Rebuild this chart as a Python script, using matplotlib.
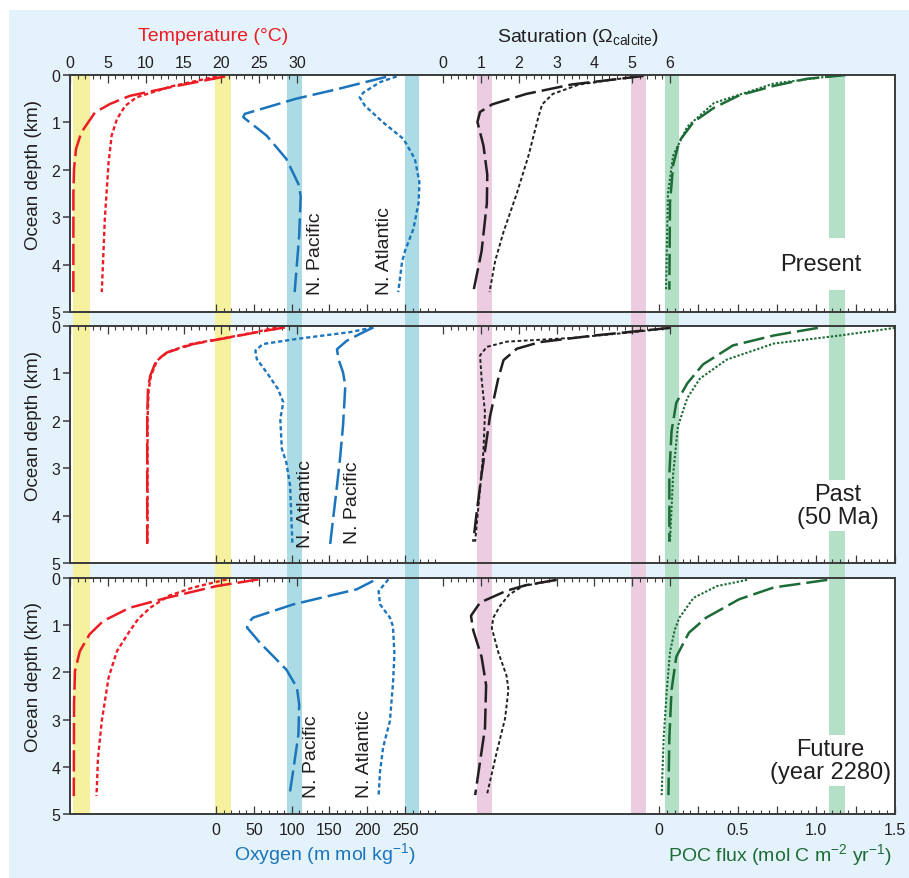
import matplotlib.pyplot as plt
from matplotlib.patches import Rectangle

plt.rcParams['font.family'] = ['Liberation Sans', 'DejaVu Sans']
plt.rcParams['mathtext.fontset'] = 'custom'
plt.rcParams['mathtext.rm'] = 'Liberation Sans'
plt.rcParams['mathtext.it'] = 'Liberation Sans:italic'
plt.rcParams['mathtext.bf'] = 'Liberation Sans:bold'
plt.rcParams['axes.unicode_minus'] = False

# ---------------- data (depth in km, value) ----------------
periods = ['Present', 'Past\n(50 Ma)', 'Future\n(year 2280)']

# Present
p1_temp_dash_z = [0.03, 0.26, 0.44, 0.61, 0.79, 1.0, 1.21, 1.56, 1.98, 2.5, 4.58]
p1_temp_dash = [20.5, 13.2, 7.9, 5.3, 3.3, 2.4, 1.5, 0.8, 0.53, 0.45, 0.44]
p1_temp_dot_z = [0.03, 0.24, 0.47, 0.65, 0.93, 1.28, 1.84, 3.04, 4.58]
p1_temp_dot = [19.4, 13.4, 8.8, 7.3, 6.2, 5.5, 5.1, 4.6, 4.2]
p1_oxy_pac_z = [0.04, 0.3, 0.5, 0.82, 0.89, 1.28, 1.77, 2.3, 2.55, 3.39, 4.58]
p1_oxy_pac = [225, 160, 106, 38, 36, 67, 93, 109, 112, 110, 104]
p1_oxy_atl_z = [0.03, 0.15, 0.37, 0.47, 0.65, 1.0, 1.35, 1.77, 2.26, 2.69, 3.25, 3.71, 3.95, 4.58]
p1_oxy_atl = [239, 217, 195, 190, 197, 221, 248, 263, 269, 268, 261, 250, 246, 241]
p1_sat_dash_z = [0.02, 0.2, 0.4, 0.62, 0.78, 0.99, 1.49, 2.1, 2.7, 3.72, 4.58]
p1_sat_dash = [5.3, 3.4, 2.2, 1.3, 0.98, 0.91, 1.07, 1.17, 1.16, 1.02, 0.80]
p1_sat_dot_z = [0.02, 0.2, 0.4, 0.62, 0.89, 1.7, 2.5, 3.31, 3.92, 4.58]
p1_sat_dot = [5.2, 3.6, 2.9, 2.62, 2.52, 2.26, 1.95, 1.6, 1.38, 1.23]
p1_poc_dash_z = [0.0, 0.08, 0.23, 0.43, 0.69, 0.99, 1.39, 1.9, 2.7, 4.53]
p1_poc_dash = [1.19, 0.94, 0.73, 0.51, 0.35, 0.22, 0.13, 0.09, 0.07, 0.066]
p1_poc_dot_z = [0.0, 0.18, 0.59, 1.09, 1.7, 2.5, 4.53]
p1_poc_dot = [1.15, 0.73, 0.35, 0.18, 0.09, 0.057, 0.045]

# Past (50 Ma)
p2_temp_dash_z = [0.03, 0.12, 0.24, 0.38, 0.56, 0.73, 1.05, 1.33, 1.96, 4.6]
p2_temp_dash = [28.4, 25.1, 21.1, 16.3, 12.8, 11.4, 10.6, 10.3, 10.2, 10.2]
p2_temp_dot_z = [0.03, 0.13, 0.25, 0.38, 0.55, 0.73, 1.05, 1.33, 1.96, 4.6]
p2_temp_dot = [27.3, 24.5, 20.6, 16.0, 12.9, 11.5, 10.7, 10.4, 10.25, 10.25]
p2_oxy_pac_z = [0.03, 0.17, 0.31, 0.49, 0.70, 0.98, 1.26, 2.1, 2.8, 3.37, 4.6]
p2_oxy_pac = [208, 190, 173, 160, 162, 168, 171, 168, 164, 160, 151]
p2_oxy_atl_z = [0.03, 0.13, 0.27, 0.38, 0.52, 0.70, 0.98, 1.33, 1.61, 1.96, 2.59, 2.88, 3.37, 4.6]
p2_oxy_atl = [208, 177, 108, 62, 52, 54, 67, 82, 89, 85, 87, 93, 98, 101]
p2_sat_dash_z = [0.04, 0.2, 0.34, 0.48, 0.72, 1.11, 1.92, 3.13, 3.94, 4.55]
p2_sat_dash = [6.0, 4.0, 2.56, 1.95, 1.6, 1.46, 1.24, 1.02, 0.89, 0.80]
p2_sat_dot_z = [0.04, 0.14, 0.25, 0.33, 0.44, 0.62, 1.11, 1.82, 2.63, 3.43, 4.55]
p2_sat_dot = [6.0, 4.9, 3.44, 1.69, 1.16, 0.98, 1.02, 1.11, 1.07, 0.98, 0.85]
p2_poc_dash_z = [0.04, 0.2, 0.41, 0.81, 1.21, 1.62, 2.22, 3.13, 4.55]
p2_poc_dash = [1.01, 0.73, 0.47, 0.28, 0.18, 0.11, 0.08, 0.066, 0.066]
p2_poc_dot_z = [0.04, 0.2, 0.37, 0.71, 1.11, 1.52, 2.12, 3.13, 4.55]
p2_poc_dot = [1.5, 1.15, 0.73, 0.43, 0.26, 0.18, 0.12, 0.09, 0.07]

# Future (year 2280)
p3_temp_dash_z = [0.03, 0.17, 0.42, 0.63, 0.91, 1.19, 1.55, 1.97, 2.68, 4.62]
p3_temp_dash = [24.9, 19.4, 12.8, 7.9, 4.4, 2.6, 1.3, 0.66, 0.53, 0.5]
p3_temp_dot_z = [0.03, 0.2, 0.38, 0.63, 0.87, 1.12, 1.55, 2.11, 3.03, 3.81, 4.62]
p3_temp_dot = [20.7, 16.3, 13.0, 10.6, 9.0, 7.9, 6.2, 5.1, 4.2, 3.7, 3.5]
p3_oxy_pac_z = [0.06, 0.24, 0.56, 0.84, 0.91, 1.05, 1.37, 1.94, 2.32, 2.68, 3.31, 4.09, 4.62]
p3_oxy_pac = [208, 186, 102, 49, 45, 41, 58, 93, 107, 110, 109, 102, 97]
p3_oxy_atl_z = [0.03, 0.28, 0.56, 0.84, 1.02, 1.62, 2.25, 3.03, 3.59, 4.09, 4.62]
p3_oxy_atl = [228, 215, 217, 230, 234, 236, 234, 230, 221, 217, 215]
p3_sat_dash_z = [0.04, 0.15, 0.27, 0.52, 0.8, 1.11, 1.67, 2.27, 3.18, 3.89, 4.6]
p3_sat_dash = [3.0, 2.2, 1.68, 0.98, 0.74, 0.80, 1.02, 1.14, 1.11, 0.98, 0.85]
p3_sat_dot_z = [0.04, 0.17, 0.35, 0.59, 0.84, 1.06, 1.57, 2.07, 2.37, 2.98, 3.69, 4.6]
p3_sat_dot = [3.0, 2.12, 1.75, 1.51, 1.33, 1.29, 1.46, 1.68, 1.73, 1.64, 1.42, 1.16]
p3_poc_dash_z = [0.04, 0.2, 0.45, 0.84, 1.16, 1.67, 2.37, 3.38, 4.6]
p3_poc_dash = [1.07, 0.73, 0.51, 0.30, 0.19, 0.11, 0.08, 0.066, 0.06]
p3_poc_dot_z = [0.04, 0.17, 0.42, 0.84, 1.1, 1.57, 2.37, 3.38, 4.6]
p3_poc_dot = [0.56, 0.37, 0.22, 0.13, 0.10, 0.07, 0.05, 0.03, 0.017]

# shaded reference ranges
temp_bands = [(0.4, 2.6), (19.2, 21.3)]
oxy_bands = [(94, 114), (250, 269)]
sat_bands = [(0.9, 1.3), (4.97, 5.37)]
poc_bands = [(0.04, 0.13), (1.08, 1.18)]

# basin labels: (text, oxygen value, depth of text start)
p1_basins = [('N. Pacific', 131, 4.62), ('N. Atlantic', 223, 4.62)]
p2_basins = [('N. Atlantic', 118, 4.66), ('N. Pacific', 180, 4.58)]
p3_basins = [('N. Pacific', 126, 4.64), ('N. Atlantic', 197, 4.64)]

# ---------------- styles ----------------
red = '#ec1c24'
blue = '#1c75bc'
black = '#231f20'
green = '#1d6b36'
frame_col = '#3a3a3a'
band_cols = {'temp': '#f5f19e', 'oxy': '#abdce5', 'sat': '#ebcce1', 'poc': '#b5e0c8'}
line_cols = {'temp': red, 'oxy': blue, 'sat': black, 'poc': green}
long_dash = (0, (8.5, 2.4))
short_dash = (0, (1.8, 1.2))

W, H = 909, 879
fig = plt.figure(figsize=(W / 100, H / 100), dpi=100)
fig.add_artist(Rectangle((9 / W, 0), 1 - 9 / W, 1 - 11 / H, transform=fig.transFigure,
                         facecolor='#e4f3fb', edgecolor='none', zorder=-10))


def rect(l, t, r, b):
    return [l / W, 1 - b / H, (r - l) / W, (b - t) / H]


panel_px = [(70, 76, 895, 313), (70, 327, 895, 564), (70, 579, 895, 815)]

# where each scale sits across the panel width: value v0 at frac f0, v1 at frac f1
place = {'temp': (0, 30, 0.0, 0.2752),
         'oxy': (0, 250, 0.1770, 0.4061),
         'sat': (0, 6, 0.4521, 0.7273),
         'poc': (0, 1.5, 0.7139, 1.0)}


def xlim_for(var):
    v0, v1, f0, f1 = place[var]
    k = (v1 - v0) / (f1 - f0)
    lo = v0 - f0 * k
    return lo, lo + k


ticks = {
    'temp': (list(range(0, 31, 5)), list(range(0, 31)), None, 'top'),
    'sat': (list(range(0, 7)), [i * 0.2 for i in range(31)], None, 'top'),
    'oxy': (list(range(0, 251, 50)), list(range(0, 291, 10)), None, 'bottom'),
    'poc': ([i * 0.25 for i in range(7)], [i * 0.05 for i in range(31)],
            ['0', '', '0.5', '', '1.0', '', '1.5'], 'bottom'),
}

# bands run through all three panels and the gaps between them
for var, bands in [('temp', temp_bands), ('oxy', oxy_bands), ('sat', sat_bands), ('poc', poc_bands)]:
    bax = fig.add_axes(rect(70, 76, 895, 815), zorder=2)
    bax.set_xlim(*xlim_for(var))
    bax.set_ylim(0, 1)
    bax.axis('off')
    for a, b in bands:
        bax.axvspan(a, b, color=band_cols[var], lw=0)

panels = [
    {'temp': [(p1_temp_dash, p1_temp_dash_z), (p1_temp_dot, p1_temp_dot_z)],
     'oxy': [(p1_oxy_pac, p1_oxy_pac_z), (p1_oxy_atl, p1_oxy_atl_z)],
     'sat': [(p1_sat_dash, p1_sat_dash_z), (p1_sat_dot, p1_sat_dot_z)],
     'poc': [(p1_poc_dash, p1_poc_dash_z), (p1_poc_dot, p1_poc_dot_z)],
     'basins': p1_basins},
    {'temp': [(p2_temp_dash, p2_temp_dash_z), (p2_temp_dot, p2_temp_dot_z)],
     'oxy': [(p2_oxy_pac, p2_oxy_pac_z), (p2_oxy_atl, p2_oxy_atl_z)],
     'sat': [(p2_sat_dash, p2_sat_dash_z), (p2_sat_dot, p2_sat_dot_z)],
     'poc': [(p2_poc_dash, p2_poc_dash_z), (p2_poc_dot, p2_poc_dot_z)],
     'basins': p2_basins},
    {'temp': [(p3_temp_dash, p3_temp_dash_z), (p3_temp_dot, p3_temp_dot_z)],
     'oxy': [(p3_oxy_pac, p3_oxy_pac_z), (p3_oxy_atl, p3_oxy_atl_z)],
     'sat': [(p3_sat_dash, p3_sat_dash_z), (p3_sat_dot, p3_sat_dot_z)],
     'poc': [(p3_poc_dash, p3_poc_dash_z), (p3_poc_dot, p3_poc_dot_z)],
     'basins': p3_basins},
]

label_pos = [(0.910, 0.203, 0.62), (0.931, 0.243, 0.1), (0.922, 0.227, 0.1)]

for i, (px, data) in enumerate(zip(panel_px, panels)):
    base = fig.add_axes(rect(*px), zorder=1)
    base.set_facecolor('white')
    base.set_xticks([])
    base.set_yticks([])
    for s in base.spines.values():
        s.set_visible(False)

    axes = {}
    for var in ['temp', 'oxy', 'sat', 'poc']:
        ax = fig.add_axes(rect(*px), zorder=3)
        ax.patch.set_visible(False)
        for s in ax.spines.values():
            s.set_visible(False)
        ax.set_xlim(*xlim_for(var))
        ax.set_ylim(5, 0)
        ax.set_yticks([])
        major, minor, labels, side = ticks[var]
        ax.xaxis.set_ticks_position(side)
        ax.set_xticks(major)
        ax.set_xticks(minor, minor=True)
        if labels is not None:
            ax.set_xticklabels(labels)
        show = (side == 'top' and i == 0) or (side == 'bottom' and i == 2)
        ax.tick_params(axis='x', which='major', direction='in', length=5.5, width=0.9,
                       color=frame_col, labelsize=11.5, labelcolor=black,
                       pad=3.5 if side == 'top' else 6)
        ax.tick_params(axis='x', which='minor', direction='in', length=3.2, width=0.8,
                       color=frame_col)
        ax.tick_params(axis='x', labeltop=(show and side == 'top'),
                       labelbottom=(show and side == 'bottom'))
        axes[var] = ax

    col = line_cols
    (d_v, d_z), (s_v, s_z) = data['temp']
    axes['temp'].plot(d_v, d_z, color=col['temp'], lw=1.8, ls=long_dash)
    axes['temp'].plot(s_v, s_z, color=col['temp'], lw=1.7, ls=short_dash)
    (d_v, d_z), (s_v, s_z) = data['oxy']
    axes['oxy'].plot(d_v, d_z, color=col['oxy'], lw=1.8, ls=long_dash)
    axes['oxy'].plot(s_v, s_z, color=col['oxy'], lw=1.7, ls=short_dash)
    (d_v, d_z), (s_v, s_z) = data['sat']
    axes['sat'].plot(d_v, d_z, color=col['sat'], lw=1.8, ls=long_dash)
    axes['sat'].plot(s_v, s_z, color=col['sat'], lw=1.4, ls=(0, (1.9, 1.3)))
    (d_v, d_z), (s_v, s_z) = data['poc']
    axes['poc'].plot(d_v, d_z, color=col['poc'], lw=1.8, ls=long_dash)
    axes['poc'].plot(s_v, s_z, color=col['poc'], lw=1.5, ls=(0, (1.1, 0.9)))

    for name, o, z in data['basins']:
        axes['oxy'].text(o, z, name, rotation=90, ha='center', va='bottom',
                         fontsize=14, color=black)

    lx, ly, lpad = label_pos[i]
    axes['poc'].text(lx, ly, periods[i], transform=axes['poc'].transAxes,
                     ha='center', va='center', multialignment='center',
                     fontsize=17, color=black, linespacing=1.1, zorder=5,
                     bbox=dict(boxstyle='square,pad=%g' % lpad, facecolor='white',
                               edgecolor='none'))

    frame = fig.add_axes(rect(*px), zorder=4)
    frame.patch.set_visible(False)
    frame.set_xticks([])
    frame.set_ylim(5, 0)
    frame.set_yticks(range(6))
    frame.tick_params(axis='y', direction='out', length=5, width=1.1, color=frame_col,
                      labelsize=11.5, labelcolor=black, pad=2)
    for s in frame.spines.values():
        s.set_color(frame_col)
        s.set_linewidth(1.4)
    frame.set_ylabel('Ocean depth (km)', fontsize=13.5, color=black)
    frame.yaxis.set_label_coords(-0.034, 0.583)

fig.text(213 / W, 1 - 41 / H, 'Temperature (°C)', color=red, fontsize=14,
         ha='center', va='baseline')
fig.text(578 / W, 1 - 41.5 / H, r'Saturation ($\Omega_{\mathrm{calcite}}$)', color=black,
         fontsize=14, ha='center', va='baseline')
fig.text(325 / W, 1 - 860 / H, r'Oxygen (m mol kg$^{-1}$)', color=blue, fontsize=14,
         ha='center', va='baseline')
fig.text(780 / W, 1 - 861 / H, r'POC flux (mol C m$^{-2}$ yr$^{-1}$)', color=green,
         fontsize=14, ha='center', va='baseline')

fig.savefig('out.png', dpi=100)
